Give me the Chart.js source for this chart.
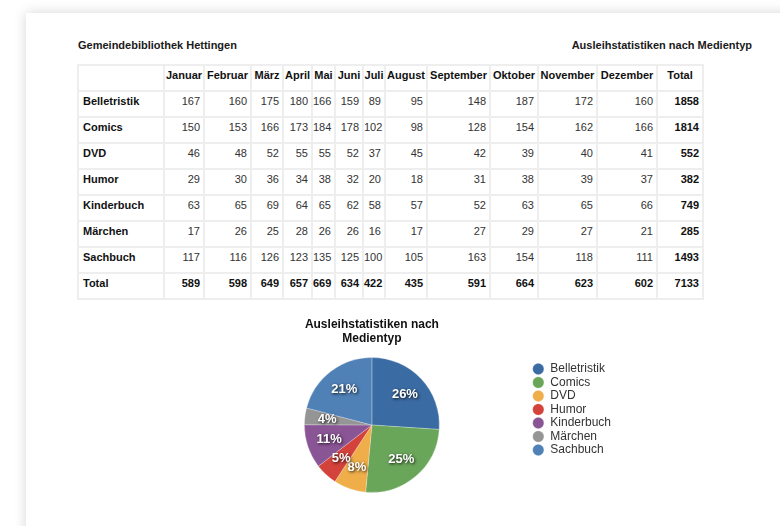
<!DOCTYPE html>
<html>
<head>
<meta charset="utf-8">
<script src="https://cdn.jsdelivr.net/npm/chart.js@4.4.1/dist/chart.umd.min.js"></script>
<style>
    html, body { margin: 0; padding: 0; width: 780px; height: 526px; overflow: hidden; background: #fff; }
    body { font-family: "Liberation Sans", Arial, Helvetica, sans-serif; color: #1a1a1a; position: relative; }
    .page { position: absolute; left: 26px; top: 13px; width: 820px; height: 560px; background: #fff; box-shadow: 0 0 12px rgba(0,0,0,0.16); }
    .head { position: absolute; top: 39px; font-size: 11px; font-weight: bold; line-height: 13px; white-space: nowrap; }
    #leftHead { left: 78px; }
    #rightHead { right: 28px; }
    table { position: absolute; left: 77px; top: 64px; border-collapse: collapse; table-layout: fixed; width: 625px; font-size: 11px; border: 2px solid #e2e2e2; }
    td, th { border: 2px solid #eeeeee; height: 21px; padding: 3px 3px 0 0; vertical-align: top; line-height: 13px; white-space: nowrap; overflow: visible; }
    th { font-weight: bold; text-align: center; color: #111; padding: 3px 0 0 0; }
    td { text-align: right; color: #333; }
    td.lbl { text-align: left; font-weight: bold; color: #111; padding-left: 4px; }
    td.tot, tr.total td { font-weight: bold; color: #111; }
    #pieBox { position: absolute; left: 213px; top: 318px; width: 408px; height: 175px; }
</style>
</head>
<body>
<div class="page"></div>
<div class="head" id="leftHead">Gemeindebibliothek Hettingen</div>
<div class="head" id="rightHead">Ausleihstatistiken nach Medientyp</div>
<table id="tbl"></table>
<div id="pieBox"><canvas id="pie" width="408" height="175"></canvas></div>

<script>
const months = ['Januar', 'Februar', 'März', 'April', 'Mai', 'Juni', 'Juli', 'August', 'September', 'Oktober', 'November', 'Dezember'];
const categories = ['Belletristik', 'Comics', 'DVD', 'Humor', 'Kinderbuch', 'Märchen', 'Sachbuch'];

const belletristik = [167, 160, 175, 180, 166, 159, 89, 95, 148, 187, 172, 160];
const comics       = [150, 153, 166, 173, 184, 178, 102, 98, 128, 154, 162, 166];
const dvd          = [46, 48, 52, 55, 55, 52, 37, 45, 42, 39, 40, 41];
const humor        = [29, 30, 36, 34, 38, 32, 20, 18, 31, 38, 39, 37];
const kinderbuch   = [63, 65, 69, 64, 65, 62, 58, 57, 52, 63, 65, 66];
const maerchen     = [17, 26, 25, 28, 26, 26, 16, 17, 27, 29, 27, 21];
const sachbuch     = [117, 116, 126, 123, 135, 125, 100, 105, 163, 154, 118, 111];

const rows = [belletristik, comics, dvd, humor, kinderbuch, maerchen, sachbuch];
const colors = ['#3b6ba3', '#6aa65a', '#efae4a', '#d4423c', '#8a5595', '#959595', '#4f80b6'];
const colWidths = [86, 40, 47, 32, 29, 23, 28, 22, 42, 63, 48, 59, 60, 46];
const fontFamily = '"Liberation Sans", Arial, Helvetica, sans-serif';

const sum = arr => arr.reduce((a, b) => a + b, 0);
const rowTotals = rows.map(sum);
const monthTotals = months.map((m, i) => sum(rows.map(r => r[i])));
const grandTotal = sum(rowTotals);

// table
(function buildTable() {
    const tbl = document.getElementById('tbl');
    let html = '<colgroup>' + colWidths.map(w => `<col style="width:${w}px">`).join('') + '</colgroup>';
    html += '<tr><th></th>' + months.map(m => `<th>${m}</th>`).join('') + '<th>Total</th></tr>';
    rows.forEach((r, i) => {
        html += `<tr><td class="lbl">${categories[i]}</td>` + r.map(v => `<td>${v}</td>`).join('') +
            `<td class="tot">${rowTotals[i]}</td></tr>`;
    });
    html += '<tr class="total"><td class="lbl">Total</td>' + monthTotals.map(v => `<td>${v}</td>`).join('') +
        `<td>${grandTotal}</td></tr>`;
    tbl.innerHTML = html;
})();

// percentage labels on the slices
const pctLabels = {
    id: 'pctLabels',
    afterDatasetsDraw(chart) {
        const ctx = chart.ctx;
        const meta = chart.getDatasetMeta(0);
        const values = chart.data.datasets[0].data;
        const total = sum(values);
        ctx.save();
        ctx.font = 'bold 13px ' + fontFamily;
        ctx.fillStyle = '#ffffff';
        ctx.textAlign = 'center';
        ctx.textBaseline = 'middle';
        ctx.shadowColor = 'rgba(0,0,0,0.85)';
        ctx.shadowBlur = 3;
        ctx.shadowOffsetX = 1;
        ctx.shadowOffsetY = 1;
        meta.data.forEach((arc, i) => {
            const p = arc.getProps(['x', 'y', 'startAngle', 'endAngle', 'outerRadius'], true);
            const mid = (p.startAngle + p.endAngle) / 2;
            const r = p.outerRadius * 0.67;
            ctx.fillText(Math.round(values[i] / total * 100) + '%', p.x + Math.cos(mid) * r, p.y + Math.sin(mid) * r);
        });
        ctx.restore();
    }
};

Chart.defaults.font.family = fontFamily;

new Chart(document.getElementById('pie'), {
    type: 'pie',
    data: {
        labels: categories,
        datasets: [{
            data: rowTotals,
            backgroundColor: colors,
            borderColor: 'rgba(255,255,255,0.25)',
            borderWidth: 1
        }]
    },
    options: {
        responsive: false,
        animation: false,
        events: [],
        layout: { padding: 0 },
        plugins: {
            title: {
                display: true,
                text: ['Ausleihstatistiken nach', 'Medientyp'],
                fullSize: false,
                color: '#111',
                font: { size: 12, weight: 'bold', lineHeight: 1.1667 },
                padding: { top: 0, bottom: 11 }
            },
            legend: {
                position: 'right',
                align: 'center',
                title: { display: true, text: '', font: { size: 8, lineHeight: 1 }, padding: 0 },
                labels: {
                    usePointStyle: true,
                    pointStyle: 'circle',
                    boxWidth: 12,
                    boxHeight: 8,
                    padding: 1.5,
                    color: '#333',
                    font: { size: 12 }
                }
            },
            tooltip: { enabled: false }
        }
    },
    plugins: [pctLabels]
});
</script>
</body>
</html>
